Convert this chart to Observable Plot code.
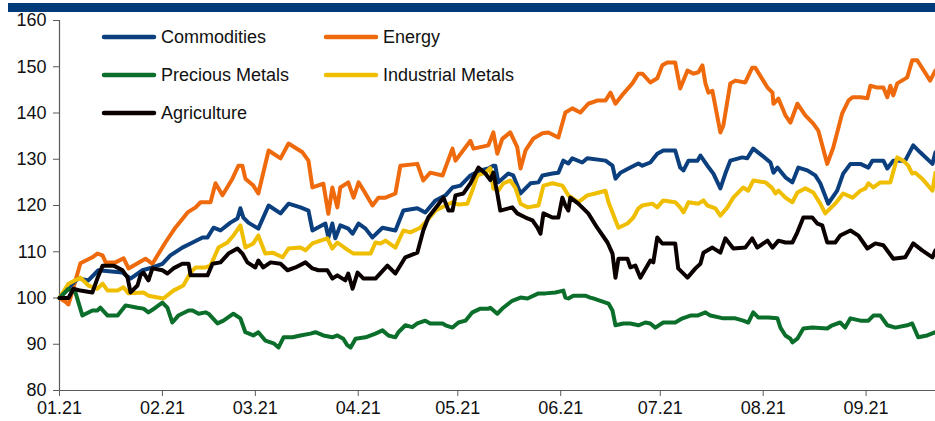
<!DOCTYPE html>
<html>
<head>
<meta charset="utf-8">
<script src="https://cdn.jsdelivr.net/npm/d3@7"></script>
<script src="https://cdn.jsdelivr.net/npm/@observablehq/plot@0.6"></script>
<style>
  html, body { margin: 0; padding: 0; background: #fff; }
  #wrap { position: relative; width: 935px; height: 421px; overflow: hidden; font-family: Arial, "Liberation Sans", sans-serif; }
  #bar { position: absolute; left: 8px; top: 3px; width: 927px; height: 9px; background: #003a78; }
  .lg { position: absolute; display: flex; align-items: center; font-size: 18px; color: #111; white-space: nowrap; }
  .lg svg { display: block; margin-right: 4px; }
</style>
</head>
<body>
<div id="wrap"><div id="bar"></div></div>
<script>
// Days since 2021-01-01 and index values (rebased to 100)
const energy = [[0,100],[1.8,99.2],[2.7,98.6],[3.9,101.5],[6.3,107.5],[9.9,108.8],[11.4,109.6],[13,109.2],[13.9,107.7],[16.9,107.7],[19.3,108.6],[20.8,106.4],[25.9,108.5],[28,107.4],[31.9,112],[34.9,115.2],[38.6,118.5],[41,119.6],[42.5,120.7],[45.5,120.7],[47,124.8],[49.1,122.2],[52.1,125.8],[53.9,128.6],[55.1,128.6],[56,125.8],[58.4,124.3],[59.9,122.6],[63,131.9],[66.6,130.2],[69,133.4],[73.2,131.5],[75,129.7],[76.2,123.9],[79.5,124.7],[81,118.2],[82.2,123.9],[83.7,119.6],[84.6,123.9],[87,125],[88.6,121.7],[90.1,125],[91.6,123.3],[94.3,120],[96.1,121.7],[98.2,121.7],[101.2,122.6],[102.7,128.6],[107.8,129],[109.6,125.4],[111.7,127.1],[115.4,126.5],[118.4,132.3],[119.3,129.7],[123.8,134],[124.7,132.3],[129.2,133],[130.7,135.8],[131.9,131.2],[133.4,134.4],[135.8,135.8],[137.9,132.6],[138.9,128],[140.4,131.9],[142.8,134.5],[145.5,135.6],[147.3,135.8],[150.3,134.7],[152.4,140.1],[154.5,141],[156.9,140.1],[159.3,142],[162,142.7],[164.5,142.7],[166,144.4],[167.5,142],[169.9,144.2],[172.6,146.4],[174.4,148.5],[175.6,148.5],[178,146.6],[180.1,147.5],[181.6,150.3],[183.1,150.9],[185.5,150.9],[187,145.3],[189.2,149.2],[191,148.5],[192.5,148.8],[193.7,150.3],[194.6,146.4],[195.5,144.4],[196.7,144.8],[199.1,135.8],[200,137.3],[202.1,146.4],[203.6,147],[206.6,146.6],[208.7,149.8],[209.6,149.8],[213.3,145.5],[214.8,144.4],[215.1,142],[216.6,143.1],[218.7,139.5],[220.2,137.9],[222.3,142],[224.7,139.5],[227.1,137.7],[228.6,136.2],[231.3,129],[233.1,132.5],[235.8,139.9],[237.7,142.7],[238.9,143.4],[241.3,143.4],[243.4,143.2],[244.3,145.9],[246.4,145.5],[248.2,145.5],[249.4,143.4],[250.3,145.9],[251.2,143.8],[252.4,146.4],[255.4,147.7],[256.9,151.4],[258.4,151.4],[262.3,147],[263.9,149.2]];

const commodities = [[0,100],[3.9,103.1],[5.7,104.2],[8.7,103.8],[11.7,106],[19,105.5],[21.4,104.2],[25,106],[28,106.6],[31,107.4],[33.4,109.2],[37,110.9],[40.1,112],[43.1,113.1],[44.6,113.1],[46.4,115.2],[48.5,114.6],[51.5,116.3],[53.6,117.2],[54.5,119.4],[55.4,117.4],[56.9,116.3],[59.9,115],[63,120],[66.6,118.3],[69,120.4],[72.6,119.6],[75,118.9],[76.2,114.6],[80.1,116.1],[81,113.1],[82.2,116.1],[83.1,112.9],[84.6,115.7],[87,115],[88.3,113.9],[90.1,116.1],[92.2,115],[94.3,113.1],[97.3,115.2],[101.2,114.6],[103.6,118.9],[107.8,119.4],[110.2,118.5],[113.3,121.1],[116.3,122.2],[118.4,123.9],[120.8,124.3],[123.8,126.5],[126.8,127.6],[129.2,128],[130.7,128.6],[131.3,128.6],[132.2,125],[135.2,126.9],[136.7,126.5],[138.9,122.6],[141.9,124.8],[144.3,125],[145.5,126.5],[148.5,126.9],[150.3,127.1],[151.8,129.7],[153.3,129.1],[154.5,130.2],[157.5,129.3],[159,130.2],[164.5,129.7],[166.6,128.6],[167.5,125.8],[169,127.1],[172,128.2],[174.4,129.1],[175.6,128.6],[178,129.3],[180.1,131.2],[181.9,131.9],[185.5,131.9],[187,128.2],[188,127.6],[189.5,129.7],[192.2,129.7],[193.1,130.8],[195.2,128.6],[197,126.9],[199.1,123.7],[200.6,126.9],[202.1,129.7],[205.7,130.4],[207.2,130.2],[209,132.3],[211.7,130.8],[214.2,129.3],[215.1,127.1],[216.3,128.2],[218.7,126.1],[220.8,125],[222.6,128.2],[225.3,127.6],[227.7,126.5],[229.2,124.8],[231.6,120.4],[234.3,123.2],[236.1,126.9],[238.3,129],[241.3,129],[243.7,128.2],[244.9,129.7],[248.2,129.7],[249.4,128],[251.2,129.7],[254.8,129.7],[257.2,133],[259.3,131.5],[263,129],[263.9,131.5]];

const industrialMetals = [[0,100],[2.7,103.1],[6.3,104.4],[8.7,102.7],[11.4,102],[13,103.1],[14.5,101.6],[17.5,101.6],[19.3,102.3],[20.8,101],[25.3,101.2],[26.8,100.5],[31.3,99.9],[34.3,101.6],[37.3,102.7],[39.5,105.5],[41,106.6],[44,106.6],[45.5,107],[47.9,110.9],[50.6,112],[52.4,113.5],[54.5,115.7],[56,110.9],[58.4,111.8],[59.9,113.5],[62,109.6],[64.2,109.8],[67.2,108.8],[69,110.7],[72.6,110.9],[74.1,110.3],[76.2,111.8],[78.6,112.4],[80.7,112.9],[82.2,110.7],[83.7,112],[87,110.3],[88.6,109.6],[93.7,109.6],[95.2,112],[96.7,111.8],[98.2,112.4],[101.2,110.9],[103.6,114.6],[105.7,114.2],[108.7,115.2],[110.8,116.8],[113.3,118.9],[116.3,120],[118.4,120.7],[120.2,120.2],[122.9,120.4],[124.7,123.9],[125.9,126.5],[128.3,127.1],[129.8,128.1],[130.7,123.7],[132.2,123.2],[133.7,124.8],[135.8,125.4],[137.3,123.9],[138.9,120.4],[141,119.6],[144.3,120],[145.8,124.3],[148.5,124.8],[151.5,124.3],[153.3,122.2],[156.3,120.7],[159,122.2],[161.4,122.6],[164.5,123.2],[165.4,120.7],[167.5,116.8],[168.4,115.2],[171.1,116.1],[172.9,117.4],[174.4,119.4],[175.6,120],[178.6,120.4],[180.1,119.6],[181.9,121.1],[185.5,120.7],[187,119.6],[188,118.5],[189.5,120.7],[192.5,120.4],[194,121.1],[195.2,120],[197.6,119.4],[199.1,117.8],[201.2,119.6],[203,121.7],[206,123.9],[207.5,123.2],[209,125.4],[212.7,125],[214.8,123.7],[215.7,122.6],[216.6,123.2],[218.7,121.7],[220.8,120.7],[222.3,122.8],[224.7,123.7],[227.1,122.8],[229.2,120.4],[230.7,118.3],[233.7,120.4],[236.1,122.6],[238.9,121.7],[241.3,123.2],[242.8,123.7],[243.7,124.8],[245.2,123.9],[247.3,125],[250.3,125],[252.4,130.4],[254.2,129.7],[255.7,128.6],[256.9,126.9],[257.8,127.1],[259.9,125.8],[263,123.2],[263.9,127.1]];

const agriculture = [[0,100],[2.7,100],[4.2,102],[6.3,101.6],[9.9,101.2],[11.4,104.2],[13,107],[16.3,107],[19,106],[20.5,104.4],[21.4,101.2],[23.5,102.7],[24.4,104.9],[25.3,105.5],[26.8,103.8],[28,106.4],[31,106],[32.5,105.3],[34.3,106.4],[37,107.4],[38.9,107.4],[39.5,104.9],[44.6,104.9],[46.1,107.4],[48.5,107.7],[50.9,109.6],[53.6,110.7],[55.1,109.6],[56.6,107.7],[59,106.6],[59.9,108.1],[61.4,106.6],[63.6,107.7],[66.6,107.4],[68.7,106],[71.1,106.6],[74.1,107.7],[76.2,106.4],[78,106],[80.7,106],[82.2,104.2],[83.7,104.9],[86.1,103.8],[87,105.3],[88.3,102],[89.8,105.5],[91.6,104.2],[95.2,104.2],[98.8,107],[101.2,105.3],[104.2,108.8],[107.8,109.8],[109.6,114.6],[111.1,117.4],[113.9,120],[115.7,121.7],[117.2,118.9],[118.4,118.9],[119.3,122.2],[121.7,122.6],[123.8,124.8],[126.2,128.2],[128.3,126.9],[129.8,125.5],[130.7,127.1],[131.9,122.6],[132.8,118.9],[136.4,119.6],[137.9,118.3],[140.4,117.4],[142.5,116.8],[144,115.2],[144.9,113.9],[145.8,118.3],[148.5,117.4],[150.3,117.4],[151.5,121.7],[152.4,120],[153.3,118.9],[153.9,121.7],[156.3,120.4],[159.3,118.3],[162,115.2],[165.1,112],[166.6,109.6],[167.5,104.4],[168.4,108.5],[171.1,108.5],[172,106.6],[173.5,107],[175,104.4],[178,108.1],[178.9,107.7],[180.1,113.1],[181.6,111.8],[185.5,111.8],[186.4,106.4],[189.2,104.4],[191.6,106.4],[193.1,107.4],[194,109.8],[196.7,110.9],[199.1,109.8],[200.6,112.9],[203,110.7],[206.6,110.9],[208.7,112.9],[210.2,110.9],[213.3,112.4],[214.8,110.9],[216.6,112.4],[218.7,112],[220.8,112],[222.3,114.2],[224.1,117.4],[226.8,117.4],[228.3,116.1],[229.8,115.7],[231.3,112],[233.7,112],[235.2,113.5],[238.3,114.6],[240.7,113.5],[243.4,110.7],[245.8,111.8],[248.2,111.4],[251.2,108.5],[254.8,108.8],[257.2,111.8],[259.9,110.3],[263,108.8],[263.9,110.3]];

const preciousMetals = [[0,100],[2.7,102],[4.8,101.2],[6.9,96.2],[9.9,97.3],[11.4,97.3],[12.3,97.9],[14.5,96.2],[17.5,96.2],[19.9,98.4],[23.5,97.9],[25.3,97.7],[26.8,96.9],[28.9,97.9],[31,99],[32.5,97.9],[34,94.7],[35.8,96.2],[38.9,97.3],[40.1,97.3],[41.9,96.6],[44,96.9],[44.9,96.6],[47.6,94.5],[49.4,95.1],[52.4,96.6],[54.5,95.6],[56,92.6],[58.4,91.9],[59.9,92.6],[62,90.8],[64.5,90.2],[66,89.3],[67.5,91.5],[70.2,91.5],[72.6,91.9],[75.6,92.3],[77.1,92.6],[79.5,91.9],[82.2,91.5],[83.7,91.9],[85.5,91.2],[86.7,89.8],[87.7,89.3],[89.2,91.2],[92.2,91.5],[95.2,92.3],[97.3,93],[99.1,91.9],[101.2,91.5],[102.1,92.6],[104.2,94.1],[106.3,93.7],[107.8,94.5],[110.2,95.1],[111.7,94.5],[115.4,94.5],[116.3,94.1],[118.4,93.6],[120.2,94.7],[122.3,95.1],[124.4,96.9],[126.8,97.7],[129.2,97.7],[129.8,97.9],[131.9,96.6],[133.7,97.9],[136.4,99.4],[138.9,100.1],[141,99.9],[144.3,101],[146.4,101],[149.4,101.2],[151.8,101.6],[152.4,100.1],[153.3,99.9],[154.8,100.5],[158.4,100.5],[159.9,100.1],[160.8,99.9],[165.4,98.8],[166.6,97.3],[167.5,94.1],[169.9,94.5],[172,94.5],[174.4,94.1],[176.5,94.7],[178,94.5],[179.5,93.6],[181.9,94.7],[185.5,94.7],[187.7,95.6],[190.1,96.2],[192.2,96.2],[194.6,96.9],[196.1,96.2],[200,95.6],[203.6,95.6],[206,95.1],[207.5,94.7],[209,96.9],[210.5,95.8],[213.6,95.8],[216.3,95.6],[217.2,93.6],[218.7,91.9],[220.2,91.2],[220.8,90.4],[222.3,91.2],[224.1,93.4],[226.8,93.6],[231.3,93.4],[232.8,94.1],[235.2,94.7],[236.7,93.6],[238.3,95.6],[241.3,95.1],[243.7,95.1],[245.2,96.2],[247.3,96.2],[249.4,94.1],[251.8,93.6],[255.4,94.1],[256.9,94.5],[258.7,91.5],[261.4,91.9],[263.9,92.6]];

const seriesNames = ["Commodities", "Energy", "Precious Metals", "Industrial Metals", "Agriculture"];
const seriesColors = ["#0b3f7e", "#ee6a0c", "#0b6e2b", "#f0be00", "#0a0000"];
const seriesData = [commodities, energy, preciousMetals, industrialMetals, agriculture];
const drawOrder = ["Energy", "Commodities", "Industrial Metals", "Precious Metals", "Agriculture"];
const yTicks = [80, 90, 100, 110, 120, 130, 140, 150, 160];
const startDate = new Date(Date.UTC(2021, 0, 1));
const endDate = new Date(Date.UTC(2021, 8, 21, 22));
const monthTicks = d3.utcMonth.range(startDate, endDate);

const toDate = d => new Date(startDate.getTime() + d * 864e5);
const rows = [];
drawOrder.forEach(name => {
  const i = seriesNames.indexOf(name);
  seriesData[i].forEach(([d, v]) => rows.push({series: name, date: toDate(d), value: v}));
});

const axisColor = "#5a5a5a";
const chart = Plot.plot({
  width: 935,
  height: 421,
  marginTop: 20,
  marginBottom: 31,
  marginLeft: 59,
  marginRight: 0,
  style: {fontFamily: "Arial, 'Liberation Sans', sans-serif", fontSize: "18px", color: "#111", background: "transparent", overflow: "visible"},
  x: {type: "utc", domain: [startDate, endDate]},
  y: {domain: [80, 160]},
  color: {domain: seriesNames, range: seriesColors},
  marks: [
    Plot.axisY({ticks: yTicks, tickSize: 6, tickPadding: 7, stroke: axisColor, label: null, fill: "#111"}),
    Plot.axisX({ticks: monthTicks, tickFormat: d3.utcFormat("%m.%y"), tickSize: 6, tickPadding: 5, stroke: axisColor, label: null, fill: "#111"}),
    Plot.ruleX([startDate], {stroke: axisColor, strokeWidth: 1.2}),
    Plot.ruleY([80], {stroke: axisColor, strokeWidth: 1.2}),
    Plot.line(rows, {x: "date", y: "value", z: "series", stroke: "series", strokeWidth: 4, strokeLinejoin: "round", strokeLinecap: "round"})
  ]
});
chart.style.position = "absolute";
chart.style.left = "0px";
chart.style.top = "0px";
const wrap = document.getElementById("wrap");
wrap.insertBefore(chart, document.getElementById("bar"));

// Legend overlay
const legendPos = {
  "Commodities": [101, 37], "Energy": [323, 37],
  "Precious Metals": [101, 75], "Industrial Metals": [323, 75],
  "Agriculture": [101, 113]
};
seriesNames.forEach((name, i) => {
  const [lx, ly] = legendPos[name];
  const div = document.createElement("div");
  div.className = "lg";
  div.style.left = lx + "px";
  div.style.top = (ly - 12) + "px";
  div.style.height = "24px";
  div.innerHTML = `<svg width="56" height="8"><line x1="3" y1="4" x2="53" y2="4" stroke="${seriesColors[i]}" stroke-width="4.5" stroke-linecap="round"/></svg><span>${name}</span>`;
  wrap.appendChild(div);
});
</script>
</body>
</html>
